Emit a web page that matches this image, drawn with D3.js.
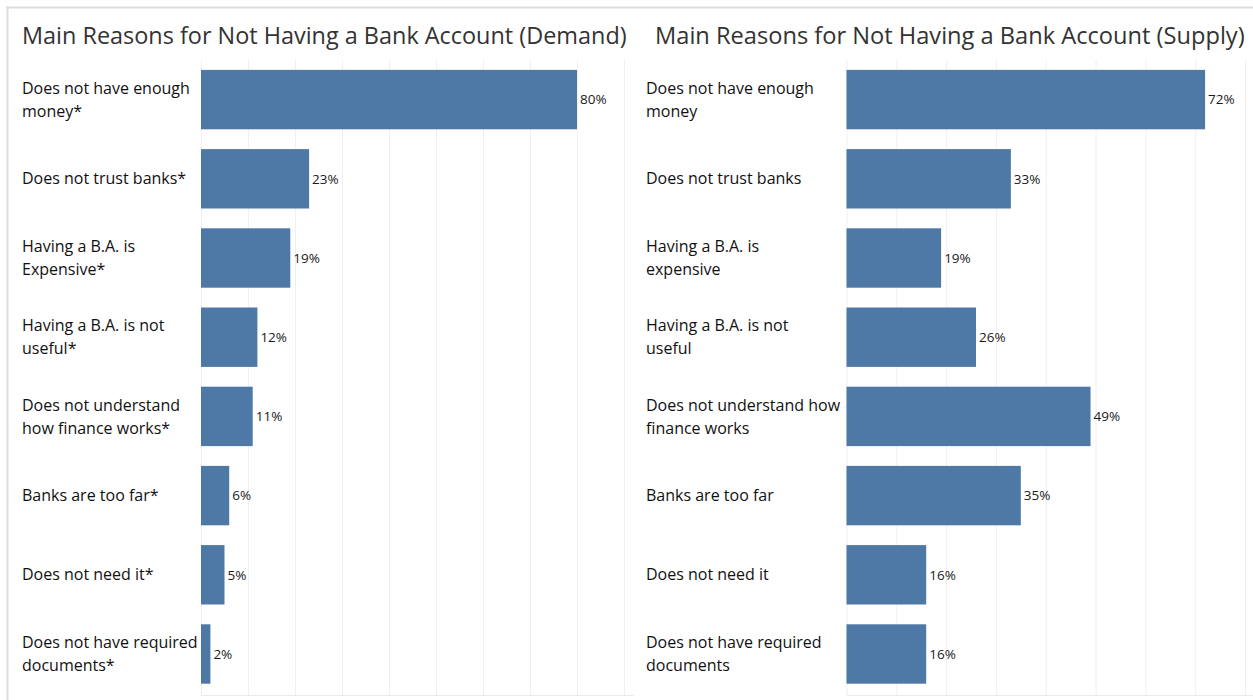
<!DOCTYPE html>
<html>
<head>
<meta charset="utf-8">
<script src="https://cdn.jsdelivr.net/npm/d3@7"></script>
<style>
	body { margin: 0; background: #fff; }
	svg { display: block; font-family: "Open Sans", "Noto Sans", sans-serif; }
</style>
</head>
<body>
<div id="chart"></div>
<script>
// reasons, as wrapped in the picture
var demandReasons = [
	"Does not have enough\nmoney*",
	"Does not trust banks*",
	"Having a B.A. is\nExpensive*",
	"Having a B.A. is not\nuseful*",
	"Does not understand\nhow finance works*",
	"Banks are too far*",
	"Does not need it*",
	"Does not have required\ndocuments*"
];
var demandValues = [0.80, 0.23, 0.19, 0.12, 0.11, 0.06, 0.05, 0.02];

var supplyReasons = [
	"Does not have enough\nmoney",
	"Does not trust banks",
	"Having a B.A. is\nexpensive",
	"Having a B.A. is not\nuseful",
	"Does not understand how\nfinance works",
	"Banks are too far",
	"Does not need it",
	"Does not have required\ndocuments"
];
var supplyValues = [0.72, 0.33, 0.19, 0.26, 0.49, 0.35, 0.16, 0.16];

var titles = [
	"Main Reasons for Not Having a Bank Account (Demand)",
	"Main Reasons for Not Having a Bank Account (Supply)"
];

var width = 1253, height = 700;
var barColor = "#4e79a7";
var fmt = d3.format(".0%");

var svg = d3.select("#chart").append("svg")
	.attr("width", width)
	.attr("height", height);

// dashboard frame
svg.append("line")
	.attr("x1", 6).attr("x2", width)
	.attr("y1", 7.5).attr("y2", 7.5)
	.attr("stroke", "#dedede").attr("stroke-width", 2);
svg.append("line")
	.attr("x1", 7.5).attr("x2", 7.5)
	.attr("y1", 7).attr("y2", height)
	.attr("stroke", "#dedede").attr("stroke-width", 2);

function drawPanel(opt) {
	var g = svg.append("g");
	var data = opt.reasons.map(function(r, i) { return { reason: r, value: opt.values[i] }; });

	var x = d3.scaleLinear().domain([0, opt.maxX]).range([opt.x0, opt.x1]);
	var y = d3.scaleBand()
		.domain(opt.reasons)
		.range([60, 693.6])
		.paddingInner(0.25)
		.paddingOuter(0.125);

	// title
	var title = g.append("text")
		.attr("x", opt.titleX)
		.attr("y", 44)
		.attr("fill", "#333")
		.style("font-size", "24px")
		.text(opt.title);
	// squeeze to the width it has in the picture
	var tw = title.node().getComputedTextLength();
	title.style("font-size", (24 * opt.titleW / tw) + "px");

	// gridlines
	g.append("g").selectAll("line")
		.data(d3.range(0, opt.maxX, 0.1))
		.enter().append("line")
		.attr("x1", function(d) { return x(d) + 0.5; })
		.attr("x2", function(d) { return x(d) + 0.5; })
		.attr("y1", 60).attr("y2", 695)
		.attr("stroke", "#f0f0f0");

	g.append("line")
		.attr("x1", opt.x0).attr("x2", opt.x1)
		.attr("y1", 695.5).attr("y2", 695.5)
		.attr("stroke", "#ebebeb");

	// bars
	g.append("g").selectAll("rect")
		.data(data)
		.enter().append("rect")
		.attr("x", x(0))
		.attr("y", function(d) { return y(d.reason); })
		.attr("width", function(d) { return x(d.value) - x(0); })
		.attr("height", y.bandwidth())
		.attr("fill", barColor);

	// value labels
	g.append("g").selectAll("text")
		.data(data)
		.enter().append("text")
		.attr("x", function(d) { return x(d.value) + 3; })
		.attr("y", function(d) { return y(d.reason) + y.bandwidth() / 2; })
		.attr("dy", "0.35em")
		.attr("fill", "#1a1a1a")
		.style("font-size", "13.5px")
		.text(function(d) { return fmt(d.value); });

	// category labels
	var labels = g.append("g").selectAll("text")
		.data(data)
		.enter().append("text")
		.attr("x", opt.labelX)
		.attr("fill", "#111")
		.style("font-size", "16px");
	labels.each(function(d) {
		var lines = d.reason.split("\n");
		var cy = y(d.reason) + y.bandwidth() / 2;
		var t = d3.select(this);
		lines.forEach(function(l, i) {
			t.append("tspan")
				.attr("x", opt.labelX)
				.attr("y", cy + (i - (lines.length - 1) / 2) * 23)
				.attr("dy", "0.35em")
				.text(l);
		});
	});
}

drawPanel({
	reasons: demandReasons, values: demandValues, title: titles[0],
	titleX: 22, titleW: 605, labelX: 22,
	x0: 201, x1: 633.4, maxX: 0.92
});
drawPanel({
	reasons: supplyReasons, values: supplyValues, title: titles[1],
	titleX: 655, titleW: 590, labelX: 646,
	x0: 846.5, x1: 1254.9, maxX: 0.82
});
</script>
</body>
</html>
